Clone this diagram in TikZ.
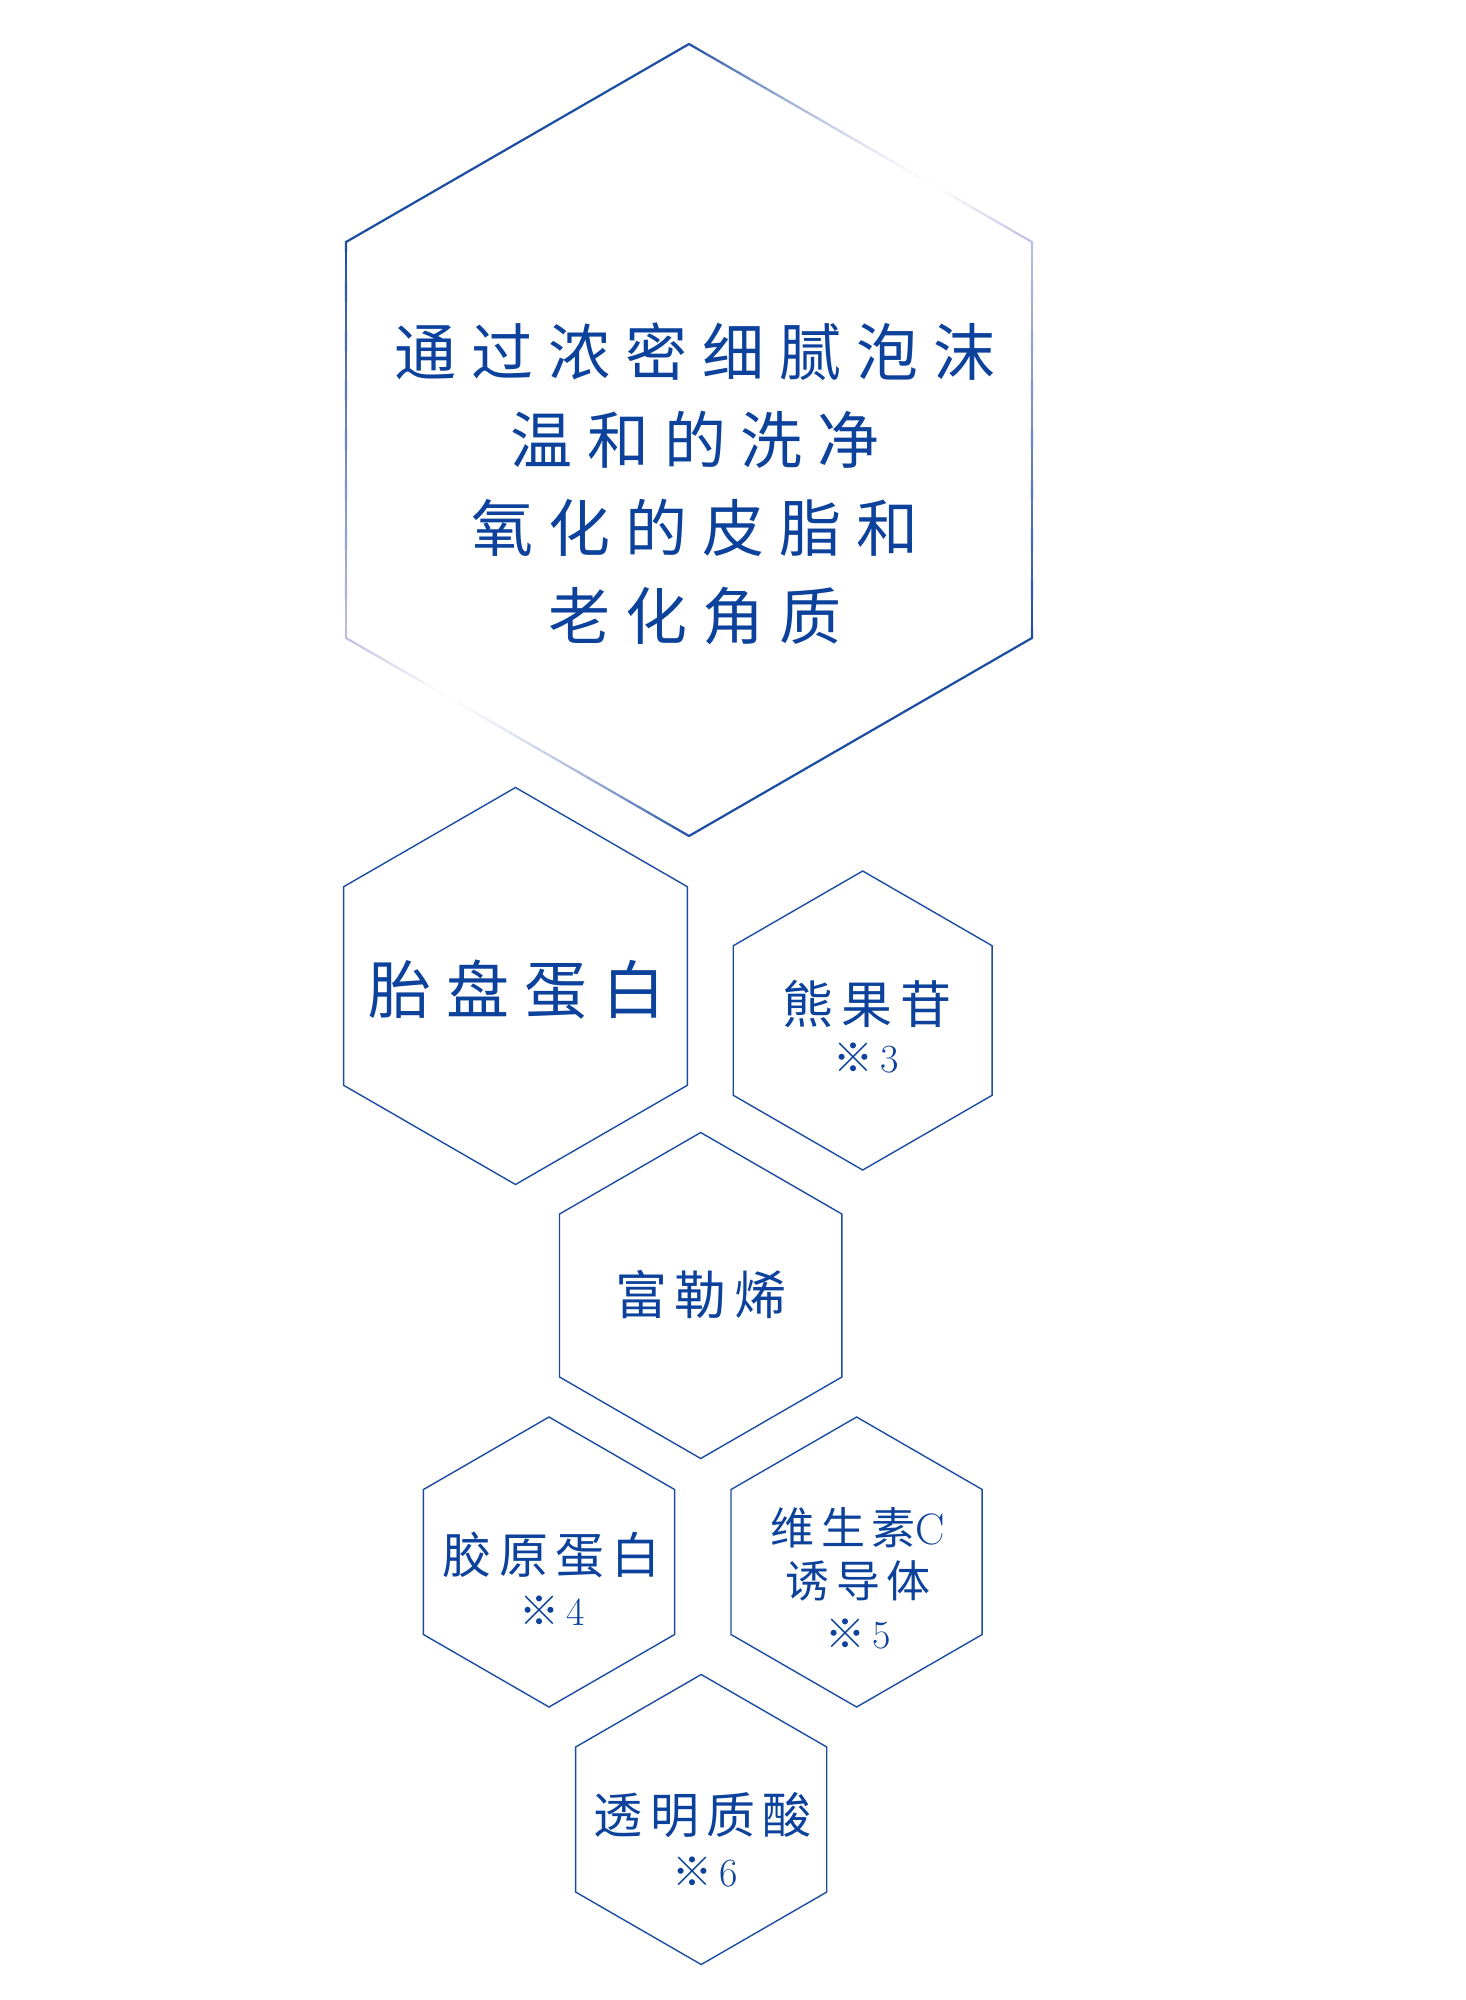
\documentclass[tikz,border=0pt]{standalone}
\usepackage{fontspec}
\newfontfamily\cjkwide[LetterSpace=24]{Noto Sans CJK SC}
\newfontfamily\cjknarrow[LetterSpace=15]{Noto Sans CJK SC}
\newfontfamily\cjkplain{Noto Sans CJK SC}
\usetikzlibrary{shapes.geometric, calc, positioning}
\definecolor{hexblue}{HTML}{1B4EA2}
\definecolor{textblue}{HTML}{0C429B}
\definecolor{hexlav}{HTML}{BEBEE4}
\newcommand\refmark[1]{{\cjkplain ※}\,#1}

\begin{document}
\begin{tikzpicture}
        [
            x=1pt, y=-1pt,
            hexa/.style={regular polygon, regular polygon sides=6, shape border rotate=30,
                draw=hexblue, line width=1.4pt, inner sep=0pt, minimum size=#1},
            bigedge/.style={line width=2.2pt, line cap=round},
            txt/.style={text=textblue, inner sep=0pt, align=center},
            reftxt/.style={txt, font=\fontsize{40}{44}\selectfont},
        ]
        \useasboundingbox[fill=white] (0,0) rectangle (1466,2000);

        % big hexagon
        \coordinate (big) at (689,440);
        \foreach \n/\a in {bt/90, bur/30, blr/-30, bb/-90, bll/-150, bul/150}
            \coordinate (\n) at ($(big)+(\a:396pt)$);
        \draw[bigedge, hexblue] (bul) -- (bt);
        \draw[bigedge, hexblue] (blr) -- (bb);
        \foreach \s/\e/\k in {bt/bur/1, bb/bll/1, bur/blr/2, bll/bul/2}
            \foreach \i in {0,...,39} {
                \pgfmathsetmacro\ta{\i/40}
                \pgfmathsetmacro\tb{(\i+1)/40}
                \pgfmathsetmacro\tm{(\i+0.5)/40}
                \pgfmathsetmacro\pa{\k==1 ? (\tm<0.72 ? 100*(1-\tm/0.72) : 0) : min(100,100*\tm)}
                \pgfmathsetmacro\pb{\k==1 ? (\tm<0.72 ? 100*(1-\tm/0.72) : 100*(\tm-0.72)/0.28) : 100}
                \draw[bigedge, color=hexblue!\pa!hexlav!\pb!white]
                    ($(\s)!\ta!(\e)$) -- ($(\s)!\tb!(\e)$);
            }
        \node[txt, font=\cjkwide\fontsize{62}{88}\selectfont] (bigtxt) at (695,484)
            {通过浓密细腻泡沫\\温和的洗净\\氧化的皮脂和\\老化角质};

        % small hexagons
        \node[hexa=397pt] (placenta) at (515.5,986) {};
        \node[hexa=299pt] (arbutin) at (862.7,1020.5) {};
        \node[hexa=326pt] (fullerene) at (700.7,1295.5) {};
        \node[hexa=290pt] (collagen) at (549,1562) {};
        \node[hexa=290pt] (vitc) at (856.6,1562) {};
        \node[hexa=290pt] (hyal) at (701.2,1819.5) {};

        \node[txt, font=\cjkwide\fontsize{63}{70}\selectfont] (placentatxt) at (517,990) {胎盘蛋白};
        \node[txt, font=\cjknarrow\fontsize{51}{56}\selectfont] (arbutintxt) at (867,1004) {熊果苷};
        \node[reftxt] (arbutinref) at (866,1058) {\refmark{3}};
        \node[txt, font=\cjknarrow\fontsize{52}{58}\selectfont] (fullerenetxt) at (701,1295) {富勒烯};
        \node[txt, font=\cjknarrow\fontsize{49}{54}\selectfont] (collagentxt) at (552,1555) {胶原蛋白};
        \node[reftxt] (collagenref) at (552,1611) {\refmark{4}};
        \node[txt, font=\cjknarrow\fontsize{44}{53}\selectfont] (vitctxt) at (858,1554.5)
            {维生素{\rmfamily C}\\诱导体};
        \node[reftxt] (vitcref) at (858,1634) {\refmark{5}};
        \node[txt, font=\cjknarrow\fontsize{49}{54}\selectfont] (hyaltxt) at (703,1815) {透明质酸};
        \node[reftxt] (hyalref) at (705,1872) {\refmark{6}};
    \end{tikzpicture}
\end{document}
